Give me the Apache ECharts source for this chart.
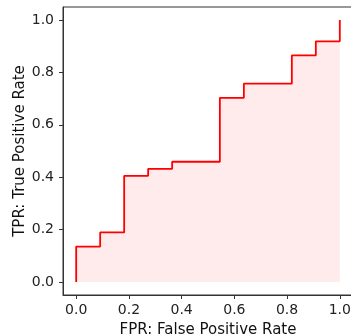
<!DOCTYPE html>
<html lang="en">
<head>
<meta charset="utf-8">
<title>ROC curve</title>
<script src="https://cdn.jsdelivr.net/npm/echarts@6/dist/echarts.min.js"></script>
<style>
  html, body { margin: 0; padding: 0; background: #fff; }
  #main { width: 351px; height: 336px; }
</style>
</head>
<body>
<div id="main"></div>
<script>
// ROC points (step curve, horizontal first)
var fpr = [0, 0, 0.091, 0.182, 0.273, 0.364, 0.545, 0.636, 0.818, 0.909, 1.0];
var tpr = [0, 0.135, 0.189, 0.405, 0.432, 0.459, 0.703, 0.757, 0.865, 0.919, 1.0];
var xTicks = [0, 0.2, 0.4, 0.6, 0.8, 1.0];
var yTicks = [0, 0.2, 0.4, 0.6, 0.8, 1.0];

var chart = echarts.init(document.getElementById('main'));
var font = 'DejaVu Sans';

var pts = [];
for (var i = 0; i < fpr.length; i++) pts.push([fpr[i], tpr[i]]);

chart.setOption({
  animation: false,
  grid: {
    left: 63, top: 7, width: 290, height: 288,
    show: true, borderColor: '#333', borderWidth: 1,
    containLabel: false,
    outerBoundsMode: 'none'
  },
  xAxis: {
    type: 'value', min: -0.05, max: 1.05,
    name: 'FPR: False Positive Rate',
    nameLocation: 'middle', nameGap: 28, nameMoveOverlap: false,
    nameTextStyle: { fontFamily: font, fontSize: 15, color: '#111' },
    splitLine: { show: false },
    axisLine: { show: true, onZero: false, lineStyle: { color: '#333', width: 1 } },
    axisTick: { show: true, length: 4, customValues: xTicks, lineStyle: { color: '#333' } },
    axisLabel: {
      customValues: xTicks, margin: 8,
      fontFamily: font, fontSize: 14, color: '#222',
      formatter: function (v) { return v.toFixed(1); }
    }
  },
  yAxis: {
    type: 'value', min: -0.05, max: 1.05,
    name: 'TPR: True Positive Rate',
    nameLocation: 'middle', nameGap: 35, nameMoveOverlap: false,
    nameTextStyle: { fontFamily: font, fontSize: 15, color: '#111' },
    splitLine: { show: false },
    axisLine: { show: true, onZero: false, lineStyle: { color: '#333', width: 1 } },
    axisTick: { show: true, length: 4, customValues: yTicks, lineStyle: { color: '#333' } },
    axisLabel: {
      customValues: yTicks, margin: 9,
      fontFamily: font, fontSize: 14, color: '#222',
      formatter: function (v) { return v.toFixed(1); }
    }
  },
  series: [{
    type: 'line',
    step: 'end',
    data: pts,
    symbol: 'none',
    lineStyle: { color: '#ff0000', width: 1.8 },
    areaStyle: { color: 'rgba(255,0,0,0.11)', origin: 'auto' }
  }]
});
</script>
</body>
</html>
